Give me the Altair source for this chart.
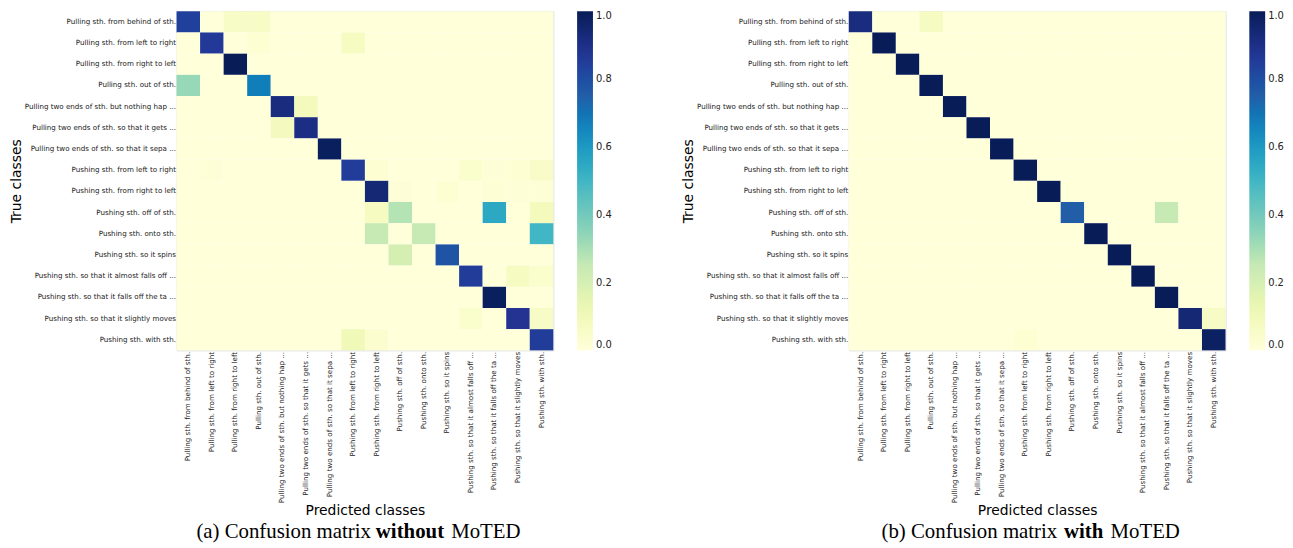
import altair as alt
import pandas as pd

classes = [
    "Pulling sth. from behind of sth.",
    "Pulling sth. from left to right",
    "Pulling sth. from right to left",
    "Pulling sth. out of sth.",
    "Pulling two ends of sth. but nothing hap ...",
    "Pulling two ends of sth. so that it gets ...",
    "Pulling two ends of sth. so that it sepa ...",
    "Pushing sth. from left to right",
    "Pushing sth. from right to left",
    "Pushing sth. off of sth.",
    "Pushing sth. onto sth.",
    "Pushing sth. so it spins",
    "Pushing sth. so that it almost falls off ...",
    "Pushing sth. so that it falls off the ta ...",
    "Pushing sth. so that it slightly moves",
    "Pushing sth. with sth.",
]

# rows = true class, columns = predicted class
without_moted = [
    [0.84, 0.00, 0.06, 0.06, 0.00, 0.00, 0.00, 0.00, 0.00, 0.00, 0.00, 0.00, 0.00, 0.00, 0.00, 0.00],
    [0.00, 0.86, 0.00, 0.02, 0.00, 0.00, 0.00, 0.07, 0.00, 0.00, 0.00, 0.00, 0.00, 0.00, 0.00, 0.00],
    [0.00, 0.00, 1.00, 0.00, 0.00, 0.00, 0.00, 0.00, 0.00, 0.00, 0.00, 0.00, 0.00, 0.00, 0.00, 0.00],
    [0.33, 0.00, 0.00, 0.67, 0.00, 0.00, 0.00, 0.00, 0.00, 0.00, 0.00, 0.00, 0.00, 0.00, 0.00, 0.00],
    [0.00, 0.00, 0.00, 0.00, 0.92, 0.09, 0.00, 0.00, 0.00, 0.00, 0.00, 0.00, 0.00, 0.00, 0.00, 0.00],
    [0.00, 0.00, 0.00, 0.00, 0.08, 0.91, 0.00, 0.00, 0.00, 0.00, 0.00, 0.00, 0.00, 0.00, 0.00, 0.00],
    [0.00, 0.00, 0.00, 0.00, 0.00, 0.00, 0.99, 0.00, 0.00, 0.00, 0.00, 0.00, 0.00, 0.00, 0.00, 0.00],
    [0.00, 0.01, 0.00, 0.00, 0.00, 0.00, 0.00, 0.85, 0.02, 0.00, 0.00, 0.00, 0.04, 0.01, 0.02, 0.05],
    [0.00, 0.00, 0.00, 0.00, 0.00, 0.00, 0.00, 0.00, 0.94, 0.01, 0.00, 0.02, 0.00, 0.015, 0.01, 0.01],
    [0.00, 0.00, 0.00, 0.00, 0.00, 0.00, 0.00, 0.00, 0.07, 0.28, 0.00, 0.00, 0.00, 0.55, 0.00, 0.09],
    [0.00, 0.00, 0.00, 0.00, 0.00, 0.00, 0.00, 0.00, 0.25, 0.00, 0.25, 0.00, 0.00, 0.00, 0.00, 0.50],
    [0.00, 0.00, 0.00, 0.00, 0.00, 0.00, 0.00, 0.00, 0.00, 0.20, 0.00, 0.78, 0.00, 0.00, 0.00, 0.00],
    [0.00, 0.00, 0.00, 0.00, 0.00, 0.00, 0.00, 0.00, 0.00, 0.00, 0.00, 0.00, 0.85, 0.00, 0.07, 0.04],
    [0.00, 0.00, 0.00, 0.00, 0.00, 0.00, 0.00, 0.00, 0.00, 0.00, 0.00, 0.00, 0.00, 0.99, 0.00, 0.00],
    [0.00, 0.00, 0.00, 0.00, 0.00, 0.00, 0.00, 0.00, 0.00, 0.00, 0.00, 0.00, 0.04, 0.00, 0.88, 0.06],
    [0.00, 0.00, 0.00, 0.00, 0.00, 0.00, 0.00, 0.10, 0.03, 0.00, 0.00, 0.00, 0.00, 0.00, 0.00, 0.85],
]

with_moted = [
    [0.92, 0.00, 0.00, 0.07, 0.00, 0.00, 0.00, 0.00, 0.00, 0.00, 0.00, 0.00, 0.00, 0.00, 0.00, 0.00],
    [0.00, 1.00, 0.00, 0.00, 0.00, 0.00, 0.00, 0.00, 0.00, 0.00, 0.00, 0.00, 0.00, 0.00, 0.00, 0.00],
    [0.00, 0.00, 1.00, 0.00, 0.00, 0.00, 0.00, 0.00, 0.00, 0.00, 0.00, 0.00, 0.00, 0.00, 0.00, 0.00],
    [0.00, 0.00, 0.00, 1.00, 0.00, 0.00, 0.00, 0.00, 0.00, 0.00, 0.00, 0.00, 0.00, 0.00, 0.00, 0.00],
    [0.00, 0.00, 0.00, 0.00, 1.00, 0.00, 0.00, 0.00, 0.00, 0.00, 0.00, 0.00, 0.00, 0.00, 0.00, 0.00],
    [0.00, 0.00, 0.00, 0.00, 0.00, 1.00, 0.00, 0.00, 0.00, 0.00, 0.00, 0.00, 0.00, 0.00, 0.00, 0.00],
    [0.00, 0.00, 0.00, 0.00, 0.00, 0.00, 1.00, 0.00, 0.00, 0.00, 0.00, 0.00, 0.00, 0.00, 0.00, 0.00],
    [0.00, 0.00, 0.00, 0.00, 0.00, 0.00, 0.00, 1.00, 0.00, 0.00, 0.00, 0.00, 0.00, 0.00, 0.00, 0.00],
    [0.00, 0.00, 0.00, 0.00, 0.00, 0.00, 0.00, 0.00, 1.00, 0.00, 0.00, 0.00, 0.00, 0.00, 0.00, 0.00],
    [0.00, 0.00, 0.00, 0.00, 0.00, 0.00, 0.00, 0.00, 0.00, 0.75, 0.00, 0.00, 0.00, 0.25, 0.00, 0.00],
    [0.00, 0.00, 0.00, 0.00, 0.00, 0.00, 0.00, 0.00, 0.00, 0.00, 1.00, 0.00, 0.00, 0.00, 0.00, 0.00],
    [0.00, 0.00, 0.00, 0.00, 0.00, 0.00, 0.00, 0.00, 0.00, 0.00, 0.00, 1.00, 0.00, 0.00, 0.00, 0.00],
    [0.00, 0.00, 0.00, 0.00, 0.00, 0.00, 0.00, 0.00, 0.00, 0.00, 0.00, 0.00, 1.00, 0.00, 0.00, 0.00],
    [0.00, 0.00, 0.00, 0.00, 0.00, 0.00, 0.00, 0.00, 0.00, 0.00, 0.00, 0.00, 0.00, 1.00, 0.00, 0.00],
    [0.00, 0.00, 0.00, 0.00, 0.00, 0.00, 0.00, 0.00, 0.00, 0.00, 0.00, 0.00, 0.00, 0.00, 0.94, 0.06],
    [0.00, 0.00, 0.00, 0.00, 0.00, 0.00, 0.00, 0.02, 0.00, 0.00, 0.00, 0.00, 0.00, 0.00, 0.00, 0.98],
]

caption_a = ["(a) Confusion matrix", "without", "MoTED"]
caption_b = ["(b) Confusion matrix", "with", "MoTED"]
colorbar_ticks = [0.0, 0.2, 0.4, 0.6, 0.8, 1.0]

# matplotlib YlGnBu
ylgnbu = ["#ffffd9", "#edf8b1", "#c7e9b4", "#7fcdbb", "#41b6c4",
          "#1d91c0", "#225ea8", "#253494", "#081d58"]
ylgnbu_stops = [i / 8 for i in range(9)]

W, H = 380, 342


def to_frame(mat):
    rows = []
    for i, t in enumerate(classes):
        for j, p in enumerate(classes):
            rows.append({"true": t, "pred": p, "value": mat[i][j]})
    return pd.DataFrame(rows)


def panel(mat, caption, xs):
    heat = alt.Chart(to_frame(mat)).mark_rect().encode(
        x=alt.X("pred:N", sort=classes,
                scale=alt.Scale(paddingInner=0, paddingOuter=0),
                axis=alt.Axis(title="Predicted classes", labelAngle=270,
                              labelFontSize=7.2, labelColor="#222222",
                              labelPadding=1, ticks=False, domain=False,
                              labelLimit=300,
                              titleFontSize=14, titleFontWeight="normal",
                              titleColor="#000000", titleY=166,
                              titleBaseline="alphabetic")),
        y=alt.Y("true:N", sort=classes,
                scale=alt.Scale(paddingInner=0, paddingOuter=0),
                axis=alt.Axis(title="True classes", labelFontSize=7.2,
                              labelColor="#222222", labelPadding=1,
                              ticks=False, domain=False, labelLimit=300,
                              titleFontSize=14, titleFontWeight="normal",
                              titleColor="#000000", titlePadding=1)),
        color=alt.Color("value:Q",
                        scale=alt.Scale(domain=ylgnbu_stops, range=ylgnbu),
                        legend=alt.Legend(title=None, orient="right",
                                          direction="vertical",
                                          gradientLength=H,
                                          gradientThickness=16,
                                          gradientStrokeWidth=0,
                                          values=colorbar_ticks, format=".1f",
                                          labelFontSize=10, labelColor="#222222",
                                          labelOffset=3, offset=24,
                                          padding=0)),
    )
    texts = []
    for k, (txt, xpos) in enumerate(zip(caption, xs)):
        texts.append(
            alt.Chart(pd.DataFrame({"t": [txt]})).mark_text(
                font="Liberation Serif", fontSize=21, align="left",
                baseline="alphabetic", color="#000000",
                fontWeight="bold" if k == 1 else "normal",
            ).encode(x=alt.value(xpos), y=alt.value(531), text="t:N")
        )
    return alt.layer(heat, *texts).properties(width=W, height=H)


left = panel(without_moted, caption_a, [20, 201, 277])
right = panel(with_moted, caption_b, [33, 217, 264])

chart = alt.hconcat(left, right, spacing=68).resolve_scale(
    color="independent"
).resolve_legend(color="independent").properties(
    padding={"left": 0, "top": 0, "right": 0, "bottom": 0},
    background="white",
).configure_view(stroke=None).configure(font="DejaVu Sans")

chart.save("out.html", embed_options={"renderer": "svg", "actions": False})
